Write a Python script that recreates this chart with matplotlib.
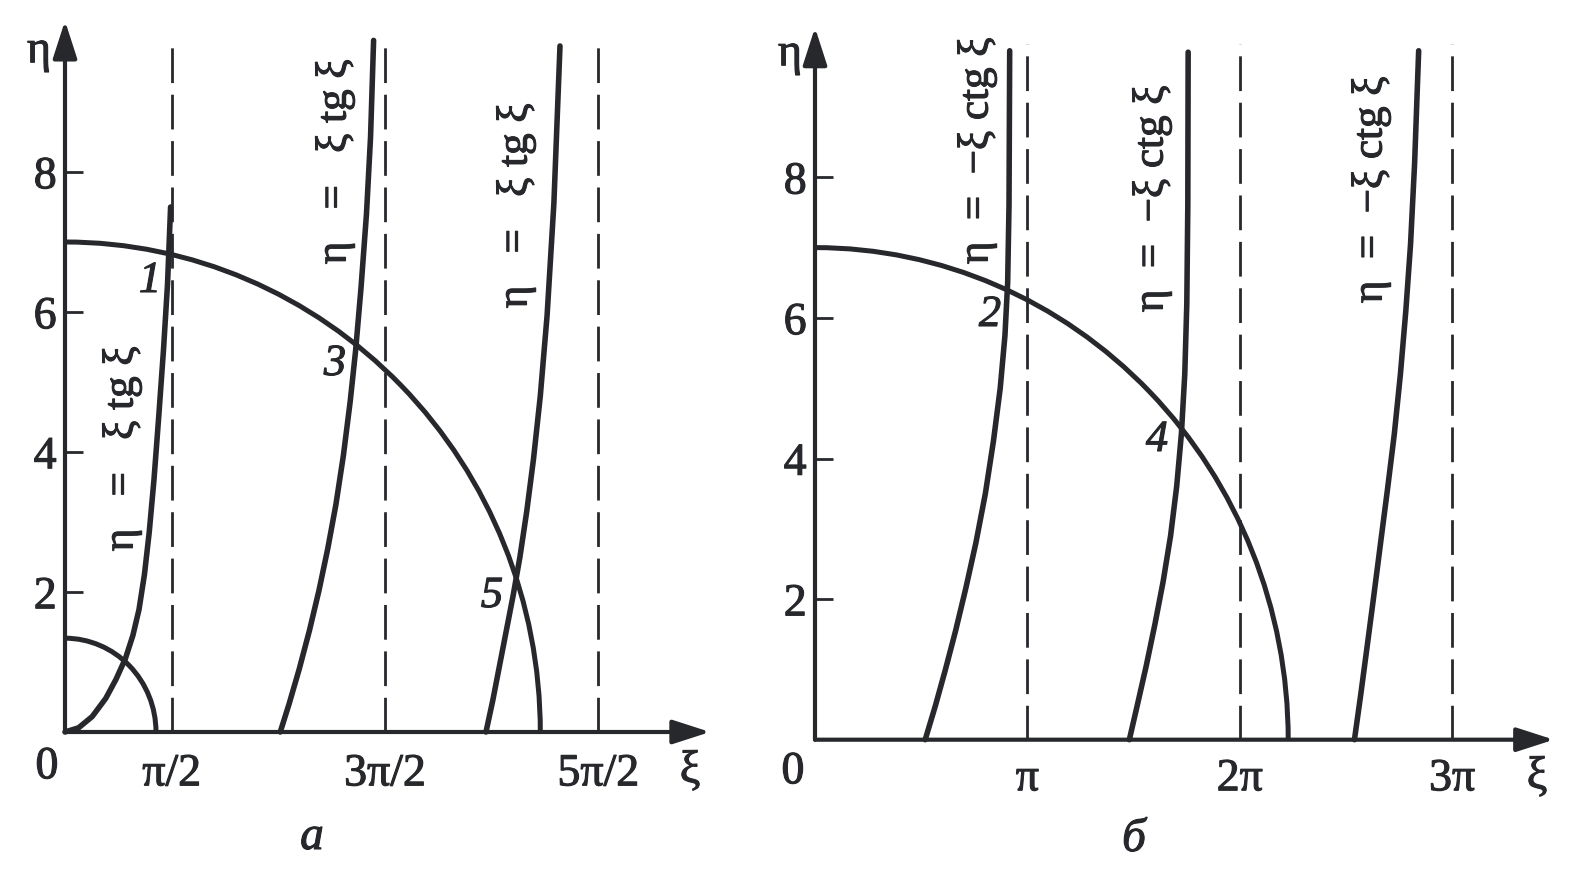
import numpy as np
import matplotlib
matplotlib.use('Agg')
import matplotlib.pyplot as plt
from matplotlib.patches import Arc
import matplotlib.patheffects as pe

W, H = 1581, 870
INK = '#26282c'
plt.rcParams['font.family'] = ['Liberation Serif', 'DejaVu Serif']

# ---------------- data ----------------
R_big = 7.0
R_small = 1.34

# panel a: eta = xi tg xi, three branches
a1_xi  = [0.0, 0.20, 0.40, 0.60, 0.75, 0.89, 1.00, 1.09, 1.17, 1.24, 1.31, 1.38, 1.45, 1.51, 1.555]
a1_eta = [0.0, 0.06, 0.22, 0.48, 0.75, 1.05, 1.38, 1.75, 2.25, 2.85, 3.60, 4.50, 5.45, 6.40, 7.50]
a2_xi  = [3.17, 3.30, 3.45, 3.60, 3.74, 3.87, 3.99, 4.10, 4.20, 4.28, 4.36, 4.44, 4.50, 4.545]
a2_eta = [0.00, 0.40, 0.90, 1.45, 2.02, 2.62, 3.25, 3.95, 4.72, 5.45, 6.35, 7.40, 8.50, 9.88]
a3_xi  = [6.20, 6.30, 6.40, 6.50, 6.60, 6.70, 6.80, 6.90, 7.00, 7.10, 7.20, 7.29]
a3_eta = [0.00, 0.45, 0.95, 1.45, 1.95, 2.50, 3.15, 3.90, 4.80, 5.95, 7.55, 9.80]

# panel b: eta = -xi ctg xi, three branches
b1_xi  = [1.63, 1.78, 1.93, 2.08, 2.23, 2.38, 2.52, 2.64, 2.74, 2.81, 2.85, 2.87, 2.88]
b1_eta = [0.00, 0.48, 1.00, 1.55, 2.15, 2.80, 3.50, 4.25, 5.00, 5.75, 6.50, 7.60, 9.80]
b2_xi  = [4.65, 4.77, 4.90, 5.03, 5.15, 5.26, 5.35, 5.42, 5.47, 5.50, 5.515, 5.52]
b2_eta = [0.00, 0.50, 1.05, 1.65, 2.25, 2.90, 3.60, 4.35, 5.20, 6.20, 7.60, 9.78]
b3_xi  = [7.98, 8.07, 8.16, 8.26, 8.36, 8.47, 8.57, 8.66, 8.74, 8.81, 8.87, 8.93]
b3_eta = [0.00, 0.62, 1.27, 2.00, 2.75, 3.57, 4.35, 5.20, 6.10, 7.05, 8.20, 9.80]

a_asym = [np.pi / 2, 3 * np.pi / 2, 5 * np.pi / 2]
a_asym_labels = ['π/2', '3π/2', '5π/2']
b_asym = [np.pi, 2 * np.pi, 3 * np.pi]
b_asym_labels = ['π', '2π', '3π']
asym_top = 9.9
yticks = [2, 4, 6, 8]
ytick_labels = ['2', '4', '6', '8']

a_label = 'η   =   ξ tg ξ'
b_label = 'η  =  −ξ ctg ξ'
a_points = ['1', '3', '5']
b_points = ['2', '4']
panel_names = ['а', 'б']

# ---------------- figure ----------------
fig = plt.figure(figsize=(W / 100, H / 100), dpi=100)
fig.patch.set_facecolor('white')
BOLD = [pe.withStroke(linewidth=0.8, foreground=INK)]


def fx(x):
    return x / W


def fy(y):
    return 1 - y / H


def make_axes(ox, oy, sx, sy, xmax, ymax):
    ax = fig.add_axes([fx(ox), fy(oy), xmax * sx / W, ymax * sy / H])
    ax.set_xlim(0, xmax)
    ax.set_ylim(0, ymax)
    for s in ax.spines.values():
        s.set_visible(False)
    ax.patch.set_alpha(0)
    return ax


axA = make_axes(65, 733, 67.9, 70.0, 9.7, 10.3)
axB = make_axes(815, 740.7, 67.6, 70.3, 11.1, 10.3)

CURVE_LW = 4.0
FS = 33


def draw_axes(ax, xtip, ytip, xt, xtl, xpad):
    ap = dict(arrowstyle='-|>,head_length=0.62,head_width=0.2', lw=3.0,
              color=INK, mutation_scale=37, shrinkA=0, shrinkB=0)
    ax.annotate('', xy=(xtip, 0), xytext=(0, 0), arrowprops=ap, annotation_clip=False)
    ax.annotate('', xy=(0, ytip), xytext=(0, 0), arrowprops=ap, annotation_clip=False)
    ax.set_xticks(xt, xtl)
    ax.set_yticks(yticks, ytick_labels)
    ax.tick_params(axis='x', length=0, pad=xpad, labelsize=FS, labelcolor=INK)
    ax.tick_params(axis='y', direction='in', length=13, width=2.0, color=INK,
                   pad=6, labelsize=FS, labelcolor=INK)
    for lbl in ax.get_xticklabels() + ax.get_yticklabels():
        lbl.set_path_effects(BOLD)
    for x in xt:
        ax.plot([x, x], [0, asym_top], color=INK, lw=2.0, dashes=(12.5, 4.2),
                clip_on=False)


draw_axes(axA, 9.5, 10.16, a_asym, a_asym_labels, 15)
draw_axes(axB, 10.93, 10.13, b_asym, b_asym_labels, 13)

# circles
for ax, r in [(axA, R_big), (axA, R_small), (axB, R_big)]:
    ax.add_patch(Arc((0, 0), 2 * r, 2 * r, theta1=0, theta2=90, color=INK,
                     lw=3.6, clip_on=False))

for xs, ys in [(a1_xi, a1_eta), (a2_xi, a2_eta), (a3_xi, a3_eta)]:
    axA.plot(xs, ys, color=INK, lw=CURVE_LW, solid_capstyle='round',
             solid_joinstyle='round', clip_on=False)
for xs, ys in [(b1_xi, b1_eta), (b2_xi, b2_eta), (b3_xi, b3_eta)]:
    axB.plot(xs, ys, color=INK, lw=CURVE_LW, solid_capstyle='round',
             solid_joinstyle='round', clip_on=False)


def t(x, y, s, **kw):
    kw.setdefault('fontsize', FS)
    kw.setdefault('ha', 'center')
    kw.setdefault('va', 'center')
    txt = fig.text(fx(x), fy(y), s, color=INK, **kw)
    txt.set_path_effects(BOLD)
    return txt


# axis names and origins
t(39, 52, 'η')
t(790, 55, 'η')
t(690, 772, 'ξ')
t(1537, 778, 'ξ')
t(47, 768, '0')
t(793, 773, '0')

# curve labels (rotated)
for (x, y) in [(122, 450), (335, 163), (516, 207)]:
    t(x, y, a_label, rotation=90, rotation_mode='anchor', fontsize=31)
for (x, y) in [(977, 152), (1152, 200), (1371, 191)]:
    t(x, y, b_label, rotation=90, rotation_mode='anchor', fontsize=31)

# intersection numbers
for s, (x, y) in zip(a_points, [(150, 282), (335, 365), (492, 597)]):
    t(x, y, s, style='italic', fontsize=32)
for s, (x, y) in zip(b_points, [(990, 316), (1157, 441)]):
    t(x, y, s, style='italic', fontsize=32)

# panel names
t(312, 850, panel_names[0], style='italic', va='baseline', fontsize=34)
t(1134, 852, panel_names[1], style='italic', va='baseline', fontsize=34)

fig.savefig('out.png', dpi=100, facecolor='white')
